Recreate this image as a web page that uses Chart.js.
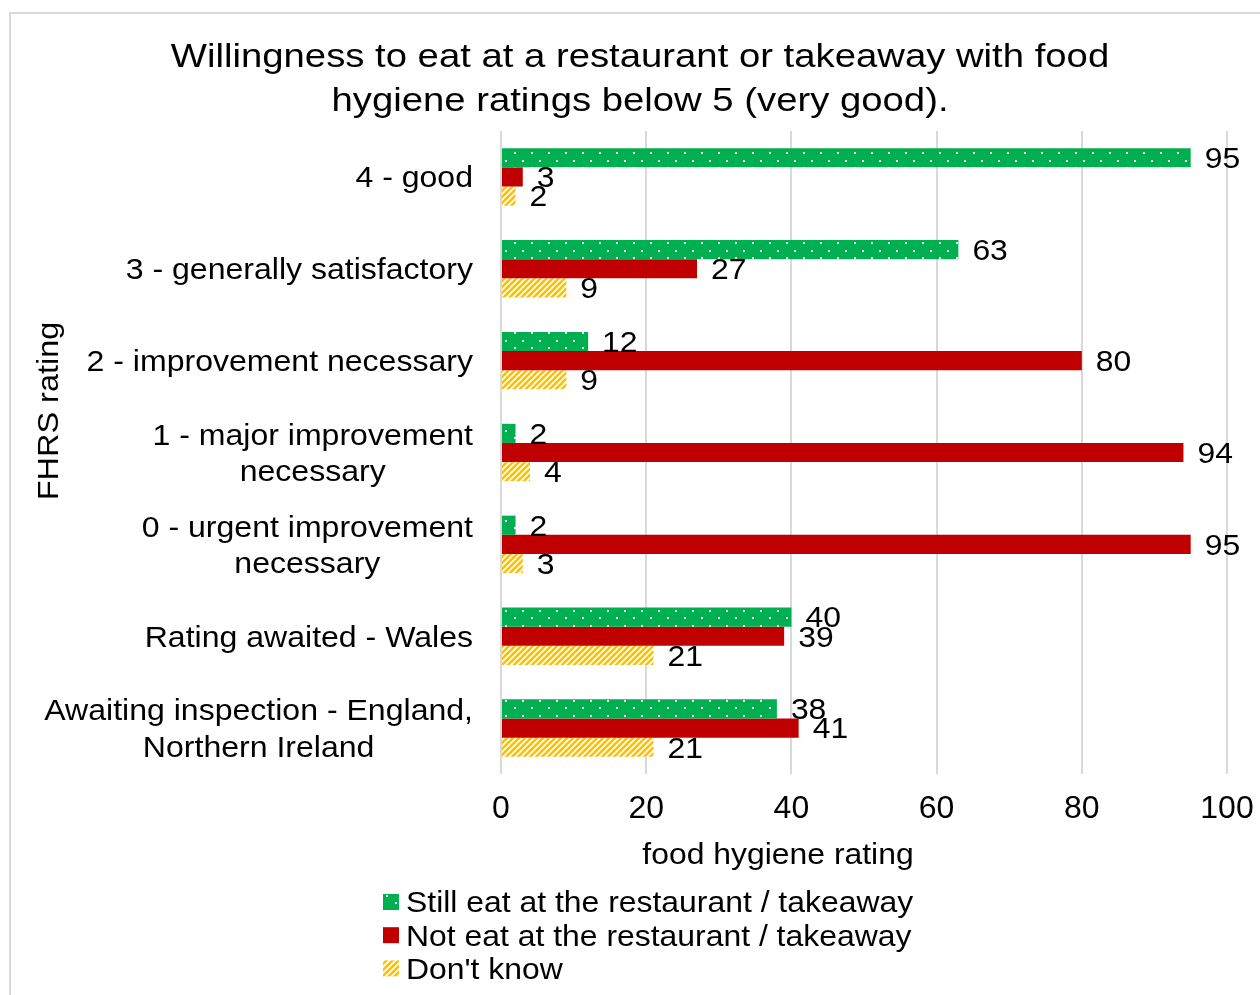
<!DOCTYPE html>
<html>
<head>
<meta charset="utf-8">
<script src="https://cdn.jsdelivr.net/npm/chart.js@4.4.1/dist/chart.umd.min.js"></script>
<style>
  html, body { margin: 0; padding: 0; background: #ffffff; }
  #wrap { position: relative; width: 1260px; height: 995px; overflow: hidden; }
  #frame { position: absolute; left: 9px; top: 12px; width: 1300px; height: 1100px;
           border: 2px solid #d9d9d9; box-sizing: border-box; }
  #c { position: absolute; left: 0; top: 0; }
</style>
</head>
<body>
<div id="wrap">
  <div id="frame"></div>
  <canvas id="c" width="1260" height="995"></canvas>
</div>
<script>
// Chart text and values
const titleLines = [
  'Willingness to eat at a restaurant or takeaway with food',
  'hygiene ratings below 5 (very good).'
];
const categories = [
  ['4 - good'],
  ['3 - generally satisfactory'],
  ['2 - improvement necessary'],
  ['1 - major improvement', 'necessary'],
  ['0 - urgent improvement', 'necessary'],
  ['Rating awaited - Wales'],
  ['Awaiting inspection - England,', 'Northern Ireland']
];
const seriesNames = [
  'Still eat at the restaurant / takeaway',
  'Not eat at the restaurant / takeaway',
  "Don't know"
];
const stillEat = [95, 63, 12, 2, 2, 40, 38];
const notEat   = [3, 27, 80, 94, 95, 39, 41];
const dontKnow = [2, 9, 9, 4, 3, 21, 21];
const xTicks = [0, 20, 40, 60, 80, 100];
const yAxisTitle = 'FHRS rating';
const xAxisTitle = 'food hygiene rating';

const FONT = "'Liberation Sans', Arial, sans-serif";
const GREEN = '#00B050', RED = '#C00000', YELLOW = '#FFC000';

// green fill with small white dots
function dotPattern() {
  const c = document.createElement('canvas');
  c.width = 17; c.height = 15;
  const g = c.getContext('2d');
  g.fillStyle = GREEN; g.fillRect(0, 0, 17, 15);
  g.fillStyle = '#ffffff';
  g.fillRect(4, 2, 2, 2);
  g.fillRect(12, 10, 2, 2);
  return g.createPattern(c, 'repeat');
}
// amber fill with white diagonal stripes
function hatchPattern() {
  const s = 6;
  const c = document.createElement('canvas');
  c.width = s; c.height = s;
  const g = c.getContext('2d');
  g.fillStyle = YELLOW; g.fillRect(0, 0, s, s);
  g.strokeStyle = '#ffffff'; g.lineWidth = 1.6;
  g.beginPath();
  g.moveTo(-1, s + 1); g.lineTo(s + 1, -1);
  g.moveTo(-1, 1); g.lineTo(1, -1);
  g.moveTo(s - 1, s + 1); g.lineTo(s + 1, s - 1);
  g.stroke();
  return g.createPattern(c, 'repeat');
}

const fills = [dotPattern(), RED, hatchPattern()];

// text drawn slightly widened along its baseline
function wideText(ctx, text, x, y, sx, align) {
  ctx.save();
  ctx.translate(x, y);
  ctx.scale(sx, 1);
  ctx.textAlign = align;
  ctx.fillText(text, 0, 0);
  ctx.restore();
}

const textPlugin = {
  id: 'chartText',
  afterDraw(chart) {
    const ctx = chart.ctx;
    const yScale = chart.scales.y;
    ctx.save();
    ctx.fillStyle = '#000000';
    ctx.textBaseline = 'alphabetic';

    // title
    ctx.font = '33px ' + FONT;
    titleLines.forEach((t, i) => wideText(ctx, t, 640, 67 + i * 44, 1.16, 'center'));

    // category labels: block right-aligned, lines centred within the block
    ctx.font = '29px ' + FONT;
    const sxCat = 1.105;
    const lh = 36.5;
    categories.forEach((lines, i) => {
      const yc = yScale.getPixelForTick(i);
      const w = Math.max(...lines.map(l => ctx.measureText(l).width)) * sxCat;
      const cx = 473 - w / 2;
      lines.forEach((l, j) => {
        const ly = yc + (j - (lines.length - 1) / 2) * lh;
        wideText(ctx, l, cx, ly + 10.4, sxCat, 'center');
      });
    });

    // value labels at bar ends
    chart.data.datasets.forEach((ds, di) => {
      const meta = chart.getDatasetMeta(di);
      meta.data.forEach((bar, i) => {
        wideText(ctx, String(ds.data[i]), bar.x + 14, bar.y + 10.4, 1.1, 'left');
      });
    });

    // axis titles
    wideText(ctx, xAxisTitle, 778, 864, 1.1, 'center');
    ctx.save();
    ctx.translate(58, 411);
    ctx.rotate(-Math.PI / 2);
    wideText(ctx, yAxisTitle, 0, 0, 1.12, 'center');
    ctx.restore();

    // legend
    chart.data.datasets.forEach((ds, di) => {
      const yc = 902 + di * 33.2;
      ctx.fillStyle = ds.backgroundColor;
      ctx.fillRect(383, yc - 8, 16, 16);
      ctx.fillStyle = '#000000';
      wideText(ctx, ds.label, 406, yc + 10.4, 1.1, 'left');
    });
    ctx.restore();
  }
};

new Chart(document.getElementById('c'), {
  type: 'bar',
  data: {
    labels: categories,
    datasets: [
      { label: seriesNames[0], data: stillEat, backgroundColor: fills[0] },
      { label: seriesNames[1], data: notEat,   backgroundColor: fills[1] },
      { label: seriesNames[2], data: dontKnow, backgroundColor: fills[2] }
    ]
  },
  options: {
    indexAxis: 'y',
    responsive: false,
    devicePixelRatio: 1,
    animation: false,
    layout: { padding: { top: 131, left: 0, right: 33, bottom: 0 } },
    datasets: { bar: { categoryPercentage: 0.625, barPercentage: 1.0, borderWidth: 0 } },
    plugins: { legend: { display: false }, title: { display: false }, tooltip: { enabled: false } },
    scales: {
      x: {
        min: 0, max: 100,
        afterBuildTicks(scale) { scale.ticks = xTicks.map(v => ({ value: v })); },
        afterFit(scale) {
          scale.height = 221;
          scale.paddingLeft = 0;
          scale.paddingRight = 0;
        },
        grid: { color: '#d9d9d9', lineWidth: 2, drawTicks: false },
        border: { display: false },
        ticks: { font: { family: FONT, size: 32 }, color: '#000000', padding: 16 }
      },
      y: {
        afterFit(scale) { scale.width = 501; },
        grid: { display: false },
        border: { display: false },
        ticks: { display: false }
      }
    }
  },
  plugins: [textPlugin]
});
</script>
</body>
</html>
